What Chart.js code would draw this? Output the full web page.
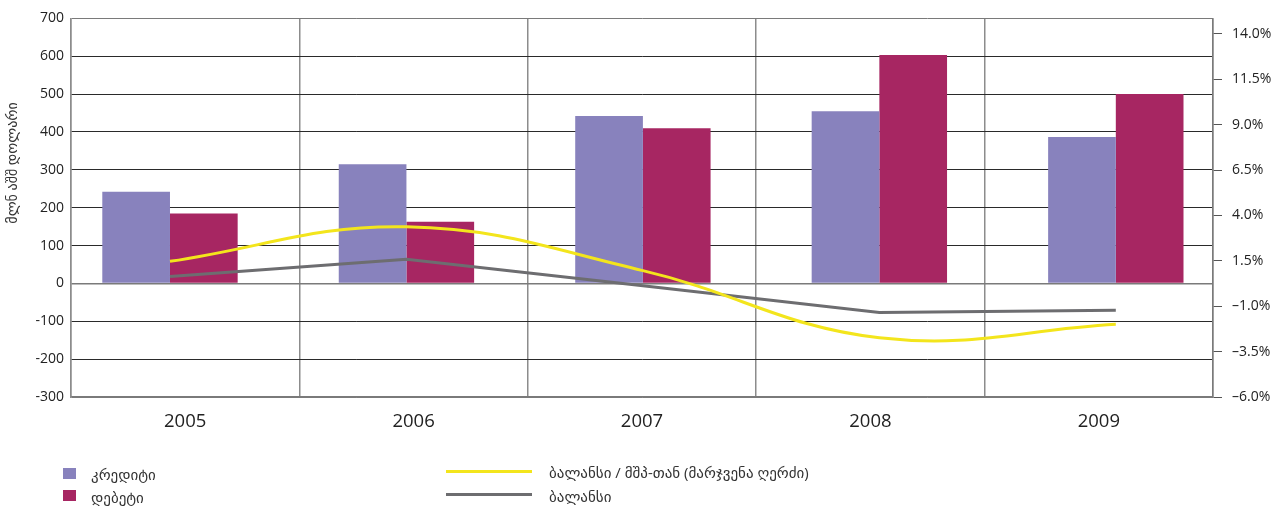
<!DOCTYPE html>
<html>
<head>
<meta charset="utf-8">
<script src="https://cdn.jsdelivr.net/npm/chart.js@4/dist/chart.umd.min.js"></script>
<style>
  html, body { margin: 0; padding: 0; background: #fff; }
  #wrap { position: relative; width: 1284px; height: 508px; }
  canvas { position: absolute; left: 0; top: 0; }
  .lg { position: absolute; font-family: 'Open Sans', 'DejaVu Sans', sans-serif; font-size: 15px; color: #333; white-space: nowrap; line-height: 16px; }
  .sw { position: absolute; }
</style>
</head>
<body>
<div id="wrap">
  <canvas id="c" width="1284" height="508"></canvas>
</div>
<script>
// ---- data ----
const categories = ['2005', '2006', '2007', '2008', '2009'];
const credit = [242, 315, 442, 455, 387];
const debit = [185, 163, 410, 603, 500];
const balance = [18, 64, -6, -77, -71];
const balanceGdp = [1.47, 3.37, 0.96, -2.74, -2.0];
const leftTicks = [-300, -200, -100, 0, 100, 200, 300, 400, 500, 600, 700];
const rightTicks = [-6.0, -3.5, -1.0, 1.5, 4.0, 6.5, 9.0, 11.5, 14.0];
const rightTickLabels = ['–6.0%', '–3.5%', '–1.0%', '1.5%', '4.0%', '6.5%', '9.0%', '11.5%', '14.0%'];
const seriesNames = ['კრედიტი', 'დებეტი', 'ბალანსი / მშპ-თან (მარჯვენა ღერძი)', 'ბალანსი'];
const yTitle = 'მლნ აშშ დოლარი';

const colors = { credit: '#8882BD', debit: '#A72662', gdp: '#F3E51C', bal: '#6D6D70' };
const FONT = "'Open Sans', 'DejaVu Sans', sans-serif";

const pts = arr => arr.map((v, i) => ({ x: i, y: v }));

const yTitlePlugin = {
  id: 'ytitle',
  afterDraw(chart) {
    const ctx = chart.ctx;
    ctx.save();
    ctx.translate(13, 163);
    ctx.rotate(-Math.PI / 2);
    ctx.font = "14px " + FONT;
    ctx.fillStyle = '#333';
    ctx.textAlign = 'center';
    ctx.textBaseline = 'middle';
    ctx.fillText(yTitle, 0, 0);
    ctx.restore();
  }
};

new Chart(document.getElementById('c'), {
  data: {
    datasets: [
      { type: 'line', label: seriesNames[2], data: pts(balanceGdp), yAxisID: 'y2', xAxisID: 'x',
        borderColor: colors.gdp, borderWidth: 3, pointRadius: 0, tension: 0.4, order: 0 },
      { type: 'line', label: seriesNames[3], data: pts(balance), yAxisID: 'y', xAxisID: 'x',
        borderColor: colors.bal, borderWidth: 3, pointRadius: 0, tension: 0, order: 1 },
      { type: 'bar', label: seriesNames[0], data: pts(credit), yAxisID: 'y', xAxisID: 'x',
        backgroundColor: colors.credit, borderWidth: 0, categoryPercentage: 0.5725, barPercentage: 1, order: 2 },
      { type: 'bar', label: seriesNames[1], data: pts(debit), yAxisID: 'y', xAxisID: 'x',
        backgroundColor: colors.debit, borderWidth: 0, categoryPercentage: 0.5725, barPercentage: 1, order: 2 }
    ]
  },
  options: {
    responsive: false,
    animation: false,
    layout: { padding: { top: 17, left: 0, right: 0, bottom: 0 } },
    plugins: { legend: { display: false }, tooltip: { enabled: false } },
    scales: {
      x: {
        type: 'linear', display: false, offset: false, min: -0.4186, max: 4.411,
        grid: { offset: false },
        afterBuildTicks: s => { s.ticks = categories.map((_, i) => ({ value: i })); }
      },
      xc: {
        type: 'category', labels: categories, position: 'bottom', offset: true,
        grid: { offset: true, color: '#8c8c8c', lineWidth: 1.5, drawTicks: false },
        border: { color: '#7a7a7a', width: 1.5 },
        ticks: { font: { family: FONT, size: 18.5 }, color: '#222', padding: 14 },
        afterFit: s => { s.height = 111; }
      },
      y: {
        type: 'linear', position: 'left', min: -300, max: 700,
        afterBuildTicks: s => { s.ticks = leftTicks.map(v => ({ value: v })); },
        grid: {
          drawTicks: false,
          color: c => (c.tick && (c.tick.value === 0 || c.tick.value === 700 || c.tick.value === -300)) ? '#7a7a7a' : '#2a2a2a',
          lineWidth: c => (c.tick && (c.tick.value === 0)) ? 1.5 : 1
        },
        border: { color: '#8c8c8c', width: 1.5 },
        ticks: { font: { family: FONT, size: 14 }, color: '#222', padding: 7 },
        afterFit: s => { s.width = 71; }
      },
      y2: {
        type: 'linear', position: 'right', min: -6.0, max: 14.85,
        afterBuildTicks: s => { s.ticks = rightTicks.map(v => ({ value: v })); },
        grid: { drawOnChartArea: false, drawTicks: true, tickLength: 9, color: '#555' },
        border: { color: '#7a7a7a', width: 1.5 },
        ticks: {
          font: { family: FONT, size: 14 }, color: '#222', padding: 10,
          callback: v => rightTickLabels[rightTicks.indexOf(v)]
        },
        afterFit: s => { s.width = 71; }
      }
    }
  },
  plugins: [yTitlePlugin]
});

// ---- legend (HTML, real text) ----
const wrap = document.getElementById('wrap');
function addLegend(x, y, text) {
  const d = document.createElement('div');
  d.className = 'lg'; d.style.left = x + 'px'; d.style.top = (y - 8) + 'px'; d.textContent = text;
  wrap.appendChild(d);
}
function addBox(x, y, w, h, color) {
  const d = document.createElement('div');
  d.className = 'sw';
  d.style.left = x + 'px'; d.style.top = y + 'px'; d.style.width = w + 'px'; d.style.height = h + 'px';
  d.style.background = color;
  wrap.appendChild(d);
}
addBox(63, 468, 13, 11, colors.credit); addLegend(91, 474, seriesNames[0]);
addBox(63, 490, 13, 11, colors.debit);  addLegend(91, 497, seriesNames[1]);
addBox(446, 469.5, 86, 3, colors.gdp);   addLegend(549, 472, seriesNames[2]);
addBox(446, 492.5, 86, 3, colors.bal);   addLegend(549, 496, seriesNames[3]);
</script>
</body>
</html>
